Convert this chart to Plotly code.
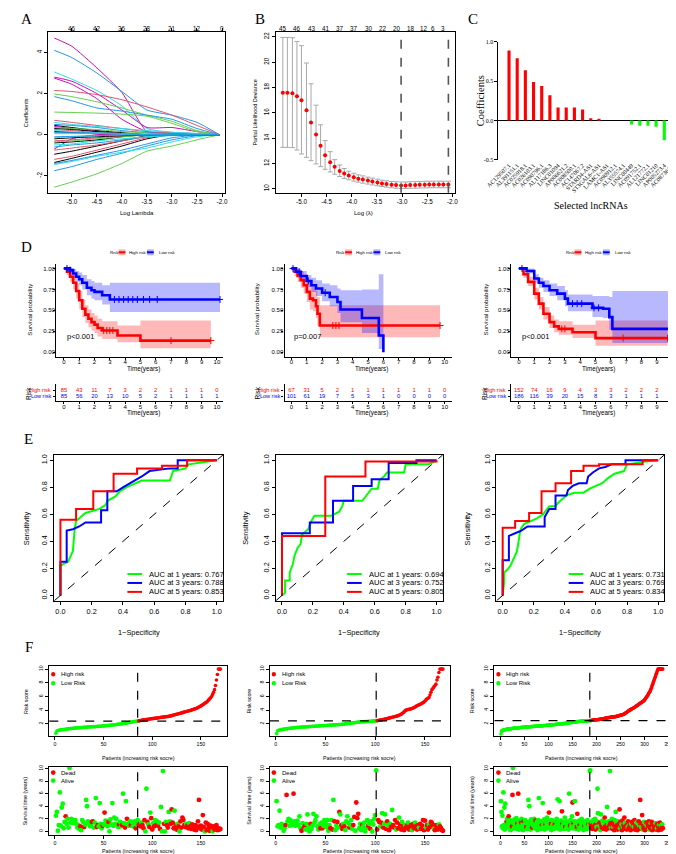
import plotly.graph_objects as go

W, H = 676, 854
SANS = "Liberation Sans"
SERIF = "Liberation Serif"

# ===================== DATA =====================
# ---- A: LASSO coefficient paths ----
LASSO_LOG_LAMBDA = [-5.35, -5.0, -4.5, -4.0, -3.5, -3.0, -2.5, -2.05]
LASSO_PATHS = [
    [4.7, 4.3, 3.25, 2.05, 0.15, 0.08, 0.03, 0],
    [4.1, 3.75, 3.0, 2.1, 1.2, 0.95, 0.6, 0],
    [3.05, 2.7, 2.15, 1.4, 0.3, 0.12, 0.05, 0],
    [2.8, 2.6, 2.0, 1.2, 0.35, 0.35, 0.15, 0],
    [2.75, 2.45, 1.75, 0.75, 0.15, 0.05, 0.0, 0],
    [2.15, 2.1, 1.95, 1.7, 1.35, 0.95, 0.45, 0],
    [1.98, 1.85, 1.6, 1.3, 0.95, 0.65, 0.2, 0],
    [1.85, 1.65, 1.3, 1.15, 0.95, 0.75, 0.3, 0],
    [1.1, 1.08, 1.05, 1.0, 0.9, 0.55, 0.15, 0],
    [0.7, 0.6, 0.45, 0.3, 0.15, 0.1, 0.05, 0],
    [0.6, 0.5, 0.4, 0.3, 0.2, 0.12, 0.06, 0],
    [0.5, 0.45, 0.35, 0.2, 0.1, 0.05, 0.02, 0],
    [0.45, 0.35, 0.2, 0.1, 0.0, 0, 0, 0],
    [0.4, 0.3, 0.15, 0.05, 0, 0, 0, 0],
    [0.35, 0.3, 0.25, 0.15, 0.08, 0, 0, 0],
    [0.3, 0.25, 0.15, 0.05, 0, 0, 0, 0],
    [0.25, 0.2, 0.1, 0.05, 0, 0, 0, 0],
    [0.2, 0.15, 0.1, 0.05, 0.02, 0, 0, 0],
    [0.15, 0.1, 0.05, 0, 0, 0, 0, 0],
    [0.1, 0.1, 0.08, 0.05, 0.02, 0, 0, 0],
    [0.05, 0.05, 0.05, 0.03, 0.01, 0, 0, 0],
    [-2.55, -2.3, -1.9, -1.4, -0.8, -0.55, -0.25, 0],
    [-1.75, -1.55, -1.2, -0.9, -0.55, -0.25, -0.05, 0],
    [-1.45, -1.3, -1.05, -0.85, -0.65, -0.35, -0.1, 0],
    [-1.4, -1.25, -1.0, -0.75, -0.45, -0.15, -0.02, 0],
    [-1.35, -1.15, -0.85, -0.55, -0.2, 0, 0, 0],
    [-1.2, -1.05, -0.75, -0.45, -0.15, 0, 0, 0],
    [-0.95, -0.8, -0.55, -0.3, -0.05, 0, 0, 0],
    [-0.75, -0.65, -0.5, -0.3, -0.1, 0, 0, 0],
    [-0.7, -0.2, 0.0, 0, 0, 0, 0, 0],
    [-0.6, -0.5, -0.4, -0.25, -0.1, -0.03, 0, 0],
    [-0.5, -0.45, -0.3, -0.2, -0.1, -0.05, 0, 0],
    [-0.4, -0.35, -0.25, -0.1, 0, 0, 0, 0],
    [-0.35, -0.3, -0.2, -0.1, -0.02, 0, 0, 0],
    [-0.3, -0.25, -0.15, -0.05, 0, 0, 0, 0],
    [-0.2, -0.15, -0.1, -0.05, 0, 0, 0, 0],
    [-0.15, -0.1, -0.05, 0, 0, 0, 0, 0],
    [-0.1, -0.08, -0.05, -0.02, 0, 0, 0, 0],
]
LASSO_PATH_COLOR = [5, 3, 4, 5, 5, 1, 2, 3, 2, 1, 4, 3, 0, 5, 2, 0, 1, 4, 0, 3, 2,
                    2, 3, 4, 3, 0, 1, 0, 1, 5, 3, 4, 0, 2, 1, 0, 4, 3]
LASSO_TOP_AT = [-5.0, -4.5, -4.0, -3.5, -3.0, -2.5, -2.0]
LASSO_TOP_DF = ["46", "42", "36", "28", "21", "12", "0"]

# ---- B: cross-validation ----
CV_LOG_LAMBDA = [-5.37, -5.28, -5.18, -5.09, -5.0, -4.9, -4.81, -4.71, -4.62, -4.53, -4.43, -4.34,
                 -4.24, -4.15, -4.06, -3.96, -3.87, -3.78, -3.68, -3.59, -3.49, -3.4, -3.31, -3.21,
                 -3.12, -3.02, -2.93, -2.84, -2.74, -2.65, -2.55, -2.46, -2.37, -2.27, -2.18, -2.08]
CV_MEAN = [17.58, 17.58, 17.55, 17.3, 16.98, 16.2, 15.23, 14.29, 13.4, 12.64, 12.09, 11.73,
           11.41, 11.2, 11.05, 10.92, 10.8, 10.73, 10.65, 10.58, 10.5, 10.42, 10.37, 10.31,
           10.29, 10.26, 10.26, 10.29, 10.3, 10.31, 10.32, 10.33, 10.33, 10.33, 10.33, 10.33]
CV_UPPER = [21.95, 21.95, 21.93, 21.63, 21.3, 19.93, 18.29, 16.6, 15.05, 13.8, 12.93, 12.3,
            11.88, 11.6, 11.39, 11.23, 11.1, 11.02, 10.92, 10.84, 10.76, 10.68, 10.63, 10.58,
            10.56, 10.54, 10.54, 10.56, 10.57, 10.58, 10.59, 10.6, 10.6, 10.6, 10.6, 10.6]
CV_LOWER = [13.27, 13.27, 13.25, 13.06, 12.75, 12.48, 12.22, 11.96, 11.75, 11.54, 11.33, 11.15,
            10.97, 10.81, 10.71, 10.6, 10.52, 10.44, 10.37, 10.3, 10.24, 10.18, 10.13, 10.08,
            10.05, 10.02, 10.02, 10.04, 10.05, 10.06, 10.07, 10.08, 10.08, 10.08, 10.08, 10.08]
CV_TOP_AT = [-5.37, -5.08, -4.79, -4.52, -4.23, -3.95, -3.66, -3.38, -3.11, -2.83, -2.56, -2.38, -2.19]
CV_TOP_DF = ["45", "46", "43", "41", "37", "37", "30", "22", "20", "18", "12", "6", "3"]
CV_LAMBDA_MIN = -3.02
CV_LAMBDA_1SE = -2.08

# ---- C: selected lncRNAs ----
GENES = ["AC129507.1", "AL391151.1", "AC025918.1", "AC026103.1", "AC090796.1", "AL117186.3",
         "LINC01094", "AP006621.2", "AC008500.1", "AC147067.2", "STARD4-AS1", "ST3GAL6-AS1",
         "LAMC1-AS1", "AC090912.1", "AL355574.1", "LINC00449", "AC091752.1", "AL121772.1",
         "LINC01210", "AP005273.4", "AC087361.1"]
COEFS = [0.89, 0.79, 0.64, 0.49, 0.44, 0.32, 0.165, 0.165, 0.165, 0.14, 0.03, 0.015,
         0, 0, 0, -0.05, -0.065, -0.065, -0.08, -0.25, -0.44]

# ---- D: Kaplan-Meier ----
KM_TABLE_TIMES = [0, 1, 2, 3, 4, 5, 6, 7, 8, 9, 10]
KM = [
    dict(pval="p<0.001",
         high_t=[0, 0.2, 0.4, 0.6, 0.8, 1.0, 1.2, 1.4, 1.6, 1.8, 2.0, 2.2, 2.5, 3.5, 5.0, 9.6],
         high_s=[1, 0.96, 0.9, 0.83, 0.73, 0.62, 0.52, 0.45, 0.4, 0.36, 0.33, 0.29, 0.26, 0.2, 0.14, 0.14],
         high_lo=[1, 0.92, 0.84, 0.75, 0.64, 0.52, 0.42, 0.35, 0.3, 0.26, 0.23, 0.19, 0.16, 0.12, 0.05, 0.05],
         high_up=[1, 1.0, 0.97, 0.92, 0.83, 0.73, 0.63, 0.56, 0.51, 0.47, 0.44, 0.4, 0.37, 0.32, 0.38, 0.38],
         high_cens=[2.6, 2.8, 3.0, 3.2, 7.0, 9.6],
         low_t=[0, 0.4, 0.6, 0.8, 1.0, 1.2, 1.5, 1.8, 2.0, 2.5, 3.0, 10.2],
         low_s=[1, 0.98, 0.94, 0.9, 0.87, 0.83, 0.77, 0.74, 0.72, 0.68, 0.63, 0.63],
         low_lo=[1, 0.95, 0.89, 0.84, 0.8, 0.75, 0.68, 0.64, 0.62, 0.57, 0.48, 0.48],
         low_up=[1, 1, 0.99, 0.97, 0.95, 0.92, 0.87, 0.85, 0.83, 0.8, 0.83, 0.83],
         low_cens=[0.2, 0.4, 3.3, 3.6, 3.9, 4.2, 4.5, 4.8, 5.2, 5.6, 6.1, 10.2],
         n_high=[85, 43, 11, 7, 3, 2, 2, 1, 1, 1, 0],
         n_low=[85, 56, 20, 13, 10, 5, 2, 1, 1, 1, 1]),
    dict(pval="p=0.007",
         high_t=[0, 0.2, 0.4, 0.6, 0.8, 1.0, 1.2, 1.4, 1.6, 1.7, 1.85, 9.7],
         high_s=[1, 0.96, 0.91, 0.86, 0.8, 0.72, 0.64, 0.62, 0.55, 0.46, 0.32, 0.32],
         high_lo=[1, 0.91, 0.84, 0.77, 0.7, 0.6, 0.51, 0.49, 0.41, 0.32, 0.18, 0.18],
         high_up=[1, 1, 0.99, 0.96, 0.92, 0.86, 0.8, 0.78, 0.73, 0.66, 0.56, 0.56],
         high_cens=[2.7, 2.9, 3.1, 9.7],
         low_t=[0, 0.3, 0.6, 1.0, 1.3, 1.6, 2.0, 2.5, 3.0, 3.2, 4.6, 5.7, 6.0],
         low_s=[1, 0.96, 0.91, 0.85, 0.8, 0.76, 0.71, 0.66, 0.6, 0.51, 0.41, 0.2, 0.0],
         low_lo=[1, 0.92, 0.86, 0.78, 0.72, 0.67, 0.61, 0.55, 0.47, 0.36, 0.23, 0.04, 0.0],
         low_up=[1, 1, 0.97, 0.92, 0.89, 0.86, 0.82, 0.8, 0.76, 0.74, 0.75, 0.93, 0.0],
         low_cens=[0.1, 0.5, 1.1, 2.2],
         n_high=[67, 31, 5, 2, 1, 1, 1, 1, 1, 1, 0],
         n_low=[101, 61, 19, 7, 5, 3, 1, 0, 0, 0, 0]),
    dict(pval="p<0.001",
         high_t=[0, 0.3, 0.6, 1.0, 1.3, 1.6, 2.0, 2.3, 2.6, 3.5, 5.0, 9.7],
         high_s=[1, 0.93, 0.84, 0.7, 0.58, 0.46, 0.36, 0.31, 0.28, 0.24, 0.17, 0.17],
         high_lo=[1, 0.89, 0.79, 0.63, 0.51, 0.39, 0.29, 0.24, 0.21, 0.17, 0.08, 0.08],
         high_up=[1, 0.97, 0.9, 0.77, 0.66, 0.54, 0.44, 0.39, 0.37, 0.33, 0.38, 0.38],
         high_cens=[2.8, 3.0, 6.8, 9.7],
         low_t=[0, 0.5, 1.0, 1.3, 1.6, 2.0, 2.5, 3.0, 3.2, 4.5, 4.8, 5.5, 5.9, 6.1, 10.2],
         low_s=[1, 0.97, 0.88, 0.83, 0.79, 0.74, 0.7, 0.64, 0.58, 0.58, 0.53, 0.52, 0.42, 0.28, 0.28],
         low_lo=[1, 0.94, 0.83, 0.77, 0.72, 0.67, 0.62, 0.55, 0.49, 0.49, 0.42, 0.41, 0.27, 0.11, 0.11],
         low_up=[1, 1, 0.93, 0.89, 0.86, 0.82, 0.79, 0.74, 0.69, 0.69, 0.67, 0.67, 0.66, 0.73, 0.73],
         low_cens=[0.2, 3.5, 3.8, 4.1, 4.9, 5.2, 10.2],
         n_high=[152, 74, 16, 9, 4, 3, 3, 2, 2, 2, 0],
         n_low=[186, 116, 39, 20, 15, 8, 3, 1, 1, 1, 1]),
]

# ---- E: time-dependent ROC (FPR, TPR) ----
ROC = [
    dict(auc=["0.767", "0.788", "0.853"],
         g_x=[0, 0, 0.05, 0.07, 0.08, 0.09, 0.1, 0.13, 0.16, 0.25, 0.29, 0.3, 0.35, 0.38, 0.42, 0.46, 0.52, 0.7, 0.72, 0.8, 0.82, 1],
         g_y=[0, 0.22, 0.25, 0.3, 0.33, 0.48, 0.55, 0.58, 0.61, 0.64, 0.67, 0.7, 0.73, 0.77, 0.8, 0.82, 0.85, 0.85, 0.92, 0.94, 0.97, 1],
         b_x=[0, 0, 0.04, 0.04, 0.08, 0.12, 0.16, 0.26, 0.26, 0.3, 0.3, 0.36, 0.4, 0.46, 0.52, 0.57, 0.7, 0.75, 0.75, 1],
         b_y=[0, 0.25, 0.25, 0.48, 0.49, 0.51, 0.54, 0.54, 0.63, 0.63, 0.77, 0.77, 0.8, 0.84, 0.88, 0.92, 0.94, 0.94, 1.0, 1],
         r_x=[0, 0, 0.1, 0.1, 0.21, 0.21, 0.34, 0.34, 0.49, 0.49, 0.65, 0.65, 0.81, 0.81, 1],
         r_y=[0, 0.56, 0.56, 0.64, 0.64, 0.77, 0.77, 0.9, 0.9, 0.94, 0.94, 0.96, 0.96, 1.0, 1]),
    dict(auc=["0.694", "0.752", "0.805"],
         g_x=[0, 0.02, 0.02, 0.05, 0.05, 0.07, 0.08, 0.1, 0.12, 0.13, 0.17, 0.19, 0.21, 0.32, 0.37, 0.39, 0.4, 0.52, 0.54, 0.56, 0.58, 0.62, 0.63, 0.66, 0.68, 0.79, 0.8, 0.95, 1],
         g_y=[0, 0.02, 0.11, 0.11, 0.17, 0.23, 0.29, 0.35, 0.38, 0.45, 0.49, 0.55, 0.59, 0.59, 0.62, 0.66, 0.7, 0.7, 0.73, 0.76, 0.79, 0.79, 0.85, 0.88, 0.91, 0.91, 0.97, 0.97, 1],
         b_x=[0, 0, 0.18, 0.18, 0.33, 0.33, 0.46, 0.46, 0.58, 0.58, 0.69, 0.69, 0.87, 0.87, 1],
         b_y=[0, 0.46, 0.46, 0.54, 0.54, 0.7, 0.7, 0.81, 0.81, 0.86, 0.86, 0.98, 0.98, 1.0, 1],
         r_x=[0, 0, 0.28, 0.28, 0.54, 0.54, 1, 1],
         r_y=[0, 0.44, 0.44, 0.88, 0.88, 0.99, 0.99, 1]),
    dict(auc=["0.731", "0.769", "0.834"],
         g_x=[0, 0.01, 0.01, 0.03, 0.05, 0.07, 0.09, 0.1, 0.11, 0.12, 0.14, 0.18, 0.22, 0.26, 0.3, 0.34, 0.36, 0.38, 0.41, 0.46, 0.52, 0.56, 0.6, 0.64, 0.68, 0.72, 0.78, 0.8, 0.92, 1],
         g_y=[0, 0.1, 0.17, 0.19, 0.22, 0.27, 0.32, 0.38, 0.46, 0.5, 0.53, 0.55, 0.57, 0.6, 0.66, 0.66, 0.69, 0.71, 0.74, 0.76, 0.76, 0.79, 0.81, 0.83, 0.87, 0.9, 0.92, 0.97, 0.99, 1],
         b_x=[0, 0, 0.04, 0.04, 0.08, 0.12, 0.16, 0.27, 0.27, 0.3, 0.34, 0.34, 0.41, 0.42, 0.45, 0.49, 0.54, 0.55, 0.58, 0.62, 0.66, 0.7, 0.79, 0.79, 1],
         b_y=[0, 0.26, 0.26, 0.44, 0.46, 0.48, 0.51, 0.51, 0.58, 0.64, 0.64, 0.74, 0.74, 0.78, 0.81, 0.83, 0.83, 0.88, 0.91, 0.94, 0.95, 0.97, 0.97, 1.0, 1],
         r_x=[0, 0, 0.08, 0.08, 0.17, 0.17, 0.25, 0.25, 0.34, 0.34, 0.44, 0.44, 0.52, 0.52, 0.62, 0.62, 0.9, 0.9, 1],
         r_y=[0, 0.5, 0.5, 0.55, 0.55, 0.61, 0.61, 0.77, 0.77, 0.83, 0.83, 0.92, 0.92, 0.96, 0.96, 0.97, 0.97, 1.0, 1]),
]
ROC_YEARS = ["1", "3", "5"]

# ---- F: risk score distribution & survival status ----
F1_N_LOW = 85
F1_CUTOFF = 2.41
F1_RISK = [0.62, 0.95, 1.02, 1.06, 1.09, 1.12, 1.14, 1.16, 1.18, 1.2,
           1.22, 1.24, 1.26, 1.28, 1.3, 1.31, 1.33, 1.34, 1.36, 1.37,
           1.38, 1.4, 1.41, 1.42, 1.44, 1.45, 1.46, 1.47, 1.48, 1.49,
           1.5, 1.51, 1.52, 1.53, 1.54, 1.55, 1.56, 1.57, 1.58, 1.59,
           1.6, 1.61, 1.62, 1.63, 1.64, 1.65, 1.66, 1.67, 1.68, 1.7,
           1.71, 1.72, 1.74, 1.75, 1.77, 1.78, 1.8, 1.81, 1.83, 1.84,
           1.86, 1.88, 1.9, 1.92, 1.94, 1.96, 1.98, 2.0, 2.02, 2.04,
           2.06, 2.08, 2.1, 2.13, 2.16, 2.19, 2.22, 2.25, 2.27, 2.3,
           2.32, 2.34, 2.36, 2.38, 2.4,
           2.43, 2.46, 2.49, 2.52, 2.55,
           2.58, 2.6, 2.62, 2.64, 2.66, 2.68, 2.7, 2.72, 2.74, 2.76,
           2.78, 2.8, 2.82, 2.84, 2.86, 2.88, 2.9, 2.92, 2.94, 2.96,
           2.98, 3.0, 3.02, 3.04, 3.06, 3.08, 3.1, 3.13, 3.16, 3.2,
           3.24, 3.28, 3.32, 3.36, 3.4, 3.44, 3.48, 3.52, 3.56, 3.6,
           3.64, 3.68, 3.72, 3.76, 3.8, 3.84, 3.88, 3.92, 3.96, 4.0,
           4.05, 4.1, 4.15, 4.2, 4.25, 4.3, 4.38, 4.46, 4.54, 4.62,
           4.7, 4.8, 4.9, 5.0, 5.1, 5.2, 5.35, 5.5, 5.65, 5.8,
           6.0, 6.3, 6.6, 7.0, 7.6, 8.4, 9.2, 10, 10, 10]
F1_TIME = [2.5, 3.1, 0.1, 1.0, 6.2, 0.9, 3.8, 4.4, 0.5, 1.5,
           2.4, 1.2, 2.0, 0.6, 10.1, 1.4, 2.0, 1.6, 1.3, 1.6,
           1.8, 1.2, 0.6, 1.0, 0.4, 0.8, 0.2, 1.8, 1.5, 0.7,
           1.1, 5.0, 4.0, 1.6, 1.2, 0.8, 1.0, 1.5, 1.6, 0.6,
           1.4, 5.3, 0.7, 1.0, 0.8, 4.5, 1.2, 0.5, 0.9, 1.1,
           3.0, 1.7, 1.0, 0.8, 1.5, 0.0, 1.9, 1.1, 4.5, 0.9,
           2.2, 1.2, 2.0, 1.0, 0.7, 1.1, 1.5, 0.8, 1.0, 6.0,
           1.3, 0.6, 4.8, 2.0, 1.2, 0.9, 1.6, 1.0, 1.5, 0.8,
           1.2, 1.6, 0.5, 1.1, 1.8,
           1.0, 1.2, 0.8, 1.4, 1.0, 0.5, 1.8, 0.0, 6.8, 1.5,
           1.1, 0.7, 3.0, 2.1, 0.3, 1.3, 0.8, 1.8, 1.0, 1.6,
           0.9, 1.4, 0.4, 3.9, 0.0, 9.6, 1.2, 0.0, 1.5, 1.0,
           0.6, 3.1, 1.6, 1.2, 3.5, 1.4, 0.5, 3.3, 1.0, 0.3,
           1.2, 0.8, 0.0, 1.6, 0.6, 2.2, 1.8, 1.0, 0.7, 1.2,
           0.9, 0.5, 1.3, 0.8, 0.4, 1.1, 0.6, 0.3, 1.0, 0.2,
           0.8, 1.6, 5.0, 0.5, 0.9, 0.3, 2.6, 0.7, 0.0, 1.4,
           0.2, 1.2, 0.6, 0.1, 0.9, 0.4, 0.0, 0.8, 0.3, 0.6,
           1.0, 0.2, 0.5, 0.3, 0.4]
F1_DEAD = [0, 0, 0, 0, 0, 0, 0, 0, 0, 0,
           1, 0, 0, 0, 0, 0, 0, 0, 0, 0,
           0, 0, 0, 0, 0, 1, 0, 0, 0, 1,
           0, 0, 0, 0, 0, 0, 0, 1, 1, 0,
           0, 0, 1, 1, 0, 0, 0, 0, 1, 0,
           1, 0, 0, 0, 1, 0, 0, 0, 0, 0,
           0, 0, 0, 0, 0, 1, 0, 0, 1, 0,
           0, 1, 0, 1, 0, 0, 0, 1, 0, 0,
           0, 0, 1, 0, 0,
           1, 1, 1, 0, 1, 1, 1, 0, 0, 1,
           0, 1, 0, 1, 1, 0, 1, 0, 1, 0,
           1, 0, 1, 0, 0, 0, 1, 0, 0, 1,
           1, 0, 0, 1, 1, 1, 1, 0, 1, 1,
           0, 1, 0, 1, 1, 1, 1, 1, 1, 0,
           1, 1, 0, 1, 1, 1, 1, 1, 1, 1,
           1, 1, 1, 1, 1, 1, 1, 1, 0, 1,
           1, 1, 1, 1, 1, 1, 0, 1, 1, 1,
           1, 1, 1, 1, 1]

F2_N_LOW = 101
F2_CUTOFF = 2.45
F2_RISK = [0.6, 1.0, 1.05, 1.1, 1.13, 1.16, 1.19, 1.22, 1.24, 1.26,
           1.28, 1.3, 1.32, 1.34, 1.36, 1.38, 1.4, 1.42, 1.44, 1.46,
           1.47, 1.48, 1.49, 1.5, 1.51, 1.52, 1.53, 1.54, 1.55, 1.56,
           1.57, 1.58, 1.59, 1.6, 1.61, 1.62, 1.63, 1.64, 1.65, 1.66,
           1.67, 1.68, 1.69, 1.7, 1.71, 1.72, 1.73, 1.74, 1.75, 1.76,
           1.77, 1.78, 1.79, 1.8, 1.81, 1.82, 1.83, 1.84, 1.85, 1.86,
           1.87, 1.88, 1.89, 1.9, 1.91, 1.92, 1.93, 1.95, 1.97, 1.99,
           2.01, 2.03, 2.05, 2.07, 2.09, 2.11, 2.13, 2.15, 2.17, 2.19,
           2.21, 2.23, 2.25, 2.27, 2.28, 2.29, 2.3, 2.31, 2.32, 2.33,
           2.34, 2.35, 2.36, 2.37, 2.38, 2.39, 2.4, 2.41, 2.42, 2.43, 2.44,
           2.47, 2.5, 2.52, 2.55, 2.58, 2.6, 2.63, 2.66, 2.7,
           2.73, 2.76, 2.8, 2.84, 2.88, 2.92, 2.96, 3.0, 3.04, 3.08,
           3.12, 3.16, 3.2, 3.26, 3.32, 3.4, 3.5, 3.62, 3.75, 3.9,
           4.0, 4.05, 4.1, 4.12, 4.15, 4.2, 4.25, 4.3, 4.38, 4.46,
           4.55, 4.64, 4.72, 4.78, 4.85, 4.9, 5.0, 5.1, 5.2, 5.35,
           5.5, 5.65, 5.75, 5.85, 6.2, 6.6, 7.0, 7.2, 7.4, 7.6,
           7.8, 8.4, 8.8, 9.5, 10, 10, 10, 10]
F2_TIME = [4.8, 0.8, 1.0, 3.3, 0.6, 1.2, 0.9, 0.1, 0.5, 1.0,
           5.8, 1.6, 2.0, 0.9, 1.8, 1.4, 1.0, 6.0, 1.6, 0.9,
           1.2, 1.7, 1.0, 2.4, 0.5, 0.1, 1.3, 0.4, 0.8, 0.3,
           1.2, 2.7, 0.6, 0.0, 1.2, 0.4, 0.9, 2.8, 1.4, 1.8,
           2.4, 0.8, 0.3, 1.1, 0.5, 1.4, 0.5, 0.9, 1.8, 1.2,
           0.7, 1.8, 0.1, 1.0, 0.5, 1.8, 0.3, 5.0, 1.6, 0.2,
           0.9, 1.5, 0.6, 3.1, 2.7, 1.0, 0.4, 1.2, 0.8, 0.2,
           1.6, 2.4, 1.3, 0.6, 1.0, 1.8, 0.4, 1.0, 2.3, 0.1,
           4.6, 2.1, 2.8, 0.5, 1.2, 0.2, 1.0, 0.8, 1.4, 0.0,
           0.5, 1.8, 0.9, 1.2, 0.4, 1.6, 0.0, 1.1, 2.0, 2.6, 9.7,
           0.3, 1.8, 1.5, 0.8, 1.4, 2.9, 0.6, 1.2, 2.7, 0.4,
           1.6, 0.9, 0.2, 1.2, 0.7, 3.4, 1.0, 0.6, 1.8, 0.3,
           1.4, 0.5, 2.2, 1.1, 0.3, 1.5, 0.8, 0.2, 1.0, 0.6,
           0.9, 1.4, 0.3, 0.7, 1.0, 0.2, 1.2, 0.5, 1.4, 0.8,
           0.3, 1.0, 0.6, 1.2, 0.4, 0.9, 1.8, 0.2, 1.7, 0.6,
           1.0, 0.3, 1.1, 0.7, 1.5, 1.3, 0.8, 0.4, 0.2, 1.0,
           0.6, 0.3, 1.1, 0.8, 0.5, 0.2, 0.1]
F2_DEAD = [0, 0, 0, 0, 0, 0, 0, 0, 0, 1,
           1, 0, 0, 0, 0, 0, 0, 1, 0, 0,
           0, 0, 0, 0, 0, 1, 0, 1, 1, 0,
           0, 0, 0, 0, 1, 0, 0, 0, 0, 0,
           0, 0, 0, 0, 1, 0, 1, 0, 0, 0,
           0, 0, 0, 0, 1, 0, 1, 0, 1, 0,
           0, 1, 0, 1, 0, 1, 1, 0, 1, 0,
           0, 0, 0, 1, 0, 0, 0, 1, 1, 0,
           1, 1, 1, 0, 0, 0, 1, 0, 0, 0,
           0, 0, 1, 0, 1, 0, 0, 0, 0, 0, 0,
           1, 1, 1, 0, 1, 0, 1, 0, 0, 1,
           1, 0, 1, 0, 1, 0, 1, 1, 1, 0,
           1, 1, 0, 1, 1, 0, 1, 1, 0, 1,
           1, 0, 1, 1, 1, 0, 1, 1, 0, 1,
           1, 1, 0, 1, 1, 1, 1, 1, 1, 0,
           1, 1, 0, 1, 1, 1, 1, 0, 1, 1,
           1, 1, 0, 1, 1, 1, 1]

F3_N_LOW = 186
F3_CUTOFF = 2.47
F3_RISK = [0.5, 0.9, 1.0, 1.03, 1.06, 1.08, 1.1, 1.12, 1.14, 1.16, 1.18, 1.2, 1.21, 1.22, 1.23, 1.24, 1.25, 1.26, 1.27, 1.28,
           1.29, 1.3, 1.31, 1.32, 1.33, 1.34, 1.35, 1.36, 1.37, 1.38, 1.38, 1.39, 1.4, 1.4, 1.41, 1.42, 1.42, 1.43, 1.44, 1.44,
           1.45, 1.46, 1.46, 1.47, 1.48, 1.48, 1.49, 1.5, 1.5, 1.51, 1.52, 1.52, 1.53, 1.54, 1.54, 1.55, 1.55, 1.56, 1.57, 1.57,
           1.58, 1.58, 1.59, 1.6, 1.6, 1.61, 1.61, 1.62, 1.63, 1.63, 1.64, 1.64, 1.65, 1.65, 1.66, 1.66, 1.67, 1.68, 1.68, 1.69,
           1.69, 1.7, 1.7, 1.71, 1.72, 1.72, 1.73, 1.73, 1.74, 1.75, 1.75, 1.76, 1.76, 1.77, 1.78, 1.78, 1.79, 1.8, 1.8, 1.81,
           1.82, 1.82, 1.83, 1.84, 1.84, 1.85, 1.86, 1.86, 1.87, 1.88, 1.88, 1.89, 1.9, 1.91, 1.91, 1.92, 1.93, 1.94, 1.94, 1.95,
           1.96, 1.97, 1.97, 1.98, 1.99, 2.0, 2.01, 2.01, 2.02, 2.03, 2.04, 2.05, 2.06, 2.06, 2.07, 2.08, 2.09, 2.1, 2.11, 2.12,
           2.13, 2.14, 2.15, 2.16, 2.17, 2.18, 2.19, 2.2, 2.21, 2.22, 2.23, 2.24, 2.25, 2.26, 2.27, 2.28, 2.29, 2.3, 2.31, 2.32,
           2.33, 2.34, 2.35, 2.35, 2.36, 2.37, 2.37, 2.38, 2.38, 2.39, 2.39, 2.4, 2.4, 2.41, 2.41, 2.42, 2.42, 2.43, 2.43, 2.44,
           2.44, 2.45, 2.45, 2.46, 2.46, 2.47,
           2.48, 2.49, 2.5, 2.51, 2.52, 2.53, 2.54, 2.55, 2.56, 2.57, 2.58, 2.59, 2.59, 2.6,
           2.6, 2.61, 2.62, 2.63, 2.64, 2.65, 2.66, 2.67, 2.68, 2.69, 2.7, 2.71, 2.72, 2.73, 2.75, 2.77, 2.79, 2.81, 2.83, 2.85,
           2.87, 2.88, 2.89, 2.9, 2.91, 2.92, 2.93, 2.94, 2.95, 2.96, 2.97, 2.98, 2.99, 3.0, 3.01, 3.02, 3.03, 3.04, 3.05, 3.06,
           3.08, 3.1, 3.12, 3.14, 3.16, 3.18, 3.2, 3.22, 3.24, 3.26, 3.28, 3.3, 3.32, 3.34, 3.36, 3.38, 3.4, 3.45, 3.5, 3.55,
           3.6, 3.65, 3.7, 3.75, 3.8, 3.85, 3.9, 3.95, 4.0, 4.04, 4.08, 4.12, 4.16, 4.2, 4.24, 4.28, 4.32, 4.36, 4.4, 4.45,
           4.5, 4.55, 4.6, 4.65, 4.7, 4.75, 4.8, 4.85, 4.9, 4.95, 5.0, 5.05, 5.1, 5.15, 5.2, 5.25, 5.3, 5.35, 5.42, 5.5,
           5.6, 5.7, 5.8, 5.9, 6.0, 6.1, 6.2, 6.35, 6.5, 6.6, 6.7, 6.85, 7.0, 7.2, 7.4, 7.6, 7.8, 8.0, 8.2, 8.4,
           8.6, 8.8, 9.0, 9.2, 9.4, 9.6, 9.8, 10, 10, 10, 10, 10, 10, 10, 10, 10, 10, 10]
F3_TIME = [4.8, 3.1, 0.8, 2.5, 0.5, 6.2, 1.0, 3.8, 0.3, 4.4, 1.2, 0.7, 1.6, 2.0, 0.9, 1.4, 2.4, 0.6, 1.1, 1.8,
           0.2, 1.5, 1.0, 0.8, 5.8, 10.1, 1.3, 0.5, 1.9, 1.1, 0.7, 1.6, 2.1, 0.4, 1.2, 0.9, 6.0, 1.5, 0.3, 1.7,
           1.0, 0.6, 1.4, 2.0, 0.8, 1.2, 0.2, 1.6, 0.9, 1.1, 1.8, 0.5, 1.3, 0.7, 1.5, 0.4, 1.0, 5.0, 1.2, 4.0,
           0.8, 1.6, 0.3, 1.9, 1.1, 0.6, 1.4, 1.0, 0.9, 2.0, 1.3, 0.5, 1.7, 1.2, 0.7, 1.5, 0.2, 1.0, 1.8, 5.3,
           1.1, 0.8, 1.4, 0.4, 1.6, 1.0, 0.6, 4.5, 1.2, 0.9, 1.9, 0.3, 1.5, 1.1, 0.7, 1.3, 2.2, 0.5, 1.0, 1.7,
           3.0, 0.9, 1.4, 0.6, 1.2, 0.2, 1.8, 1.0, 0.8, 1.5, 0.4, 1.3, 1.1, 0.7, 1.6, 0.9, 2.0, 0.5, 5.1, 1.2,
           0.8, 1.4, 4.8, 0.3, 1.0, 1.7, 0.6, 3.2, 1.2, 0.9, 1.5, 0.4, 1.1, 2.2, 0.7, 1.3, 0.5, 1.6, 1.0, 0.8,
           1.4, 0.3, 6.0, 1.2, 0.9, 1.8, 0.6, 1.0, 2.4, 4.6, 0.5, 1.3, 0.8, 1.6, 4.8, 1.1, 0.4, 1.5, 0.7, 2.8,
           1.2, 0.9, 0.3, 1.7, 1.0, 0.6, 1.4, 0.8, 2.0, 1.1, 0.5, 1.3, 0.2, 1.6, 0.9, 1.2, 0.7, 1.0, 1.5, 0.4,
           1.8, 0.6, 1.1, 0.9, 1.4, 9.6,
           9.7, 1.2, 0.8, 1.5, 0.4, 1.0, 1.8, 0.6, 1.3, 0.9, 2.0, 0.3, 1.1, 0.7,
           1.6, 6.8, 2.9, 0.5, 1.2, 0.9, 1.4, 0.2, 2.7, 1.0, 0.6, 1.7, 0.8, 1.3, 0.4, 1.1, 2.2, 0.7, 1.5, 0.3,
           1.0, 3.9, 0.8, 1.2, 0.5, 1.6, 0.9, 9.6, 1.3, 0.6, 1.1, 2.0, 0.4, 1.4, 0.7, 1.0, 0.2, 1.8, 0.9, 3.1,
           0.6, 1.3, 1.0, 0.3, 1.6, 0.8, 1.2, 3.5, 0.5, 1.5, 0.9, 1.1, 0.2, 1.7, 0.7, 1.0, 0.4, 2.2, 1.3, 0.6,
           0.9, 1.4, 0.3, 1.1, 0.7, 1.6, 0.5, 1.0, 0.8, 1.3, 0.2, 1.2, 0.6, 1.5, 0.9, 0.4, 1.1, 0.7, 1.8, 0.3,
           1.0, 0.5, 1.4, 0.8, 0.2, 1.2, 0.6, 1.6, 0.9, 0.4, 5.0, 1.1, 0.7, 1.3, 2.6, 0.3, 1.0, 0.5, 1.5, 0.8,
           0.2, 1.2, 0.6, 1.4, 0.9, 0.4, 1.1, 0.7, 1.6, 0.3, 1.0, 0.5, 1.3, 0.8, 1.5, 0.2, 1.2, 0.6, 0.9, 0.4,
           1.1, 0.7, 1.3, 0.3, 0.9, 0.5, 1.2, 0.8, 0.2, 1.0, 0.6, 1.4, 0.4, 0.9, 0.3, 0.7, 1.1, 0.5]
F3_DEAD = [0, 0, 0, 0, 0, 0, 0, 0, 0, 0, 0, 0, 1, 0, 0, 0, 1, 0, 0, 0,
           0, 0, 0, 1, 1, 0, 0, 0, 0, 0, 0, 0, 0, 0, 1, 0, 1, 0, 0, 0,
           0, 0, 1, 0, 0, 0, 0, 1, 0, 0, 0, 0, 0, 1, 0, 0, 0, 0, 0, 0,
           0, 0, 0, 0, 0, 1, 0, 0, 0, 0, 0, 0, 1, 0, 0, 0, 0, 0, 0, 0,
           0, 0, 0, 0, 0, 1, 0, 0, 0, 0, 0, 0, 0, 1, 0, 0, 0, 0, 0, 0,
           1, 0, 0, 0, 1, 0, 0, 0, 0, 0, 0, 0, 1, 0, 0, 0, 0, 0, 0, 0,
           0, 0, 0, 0, 0, 0, 0, 1, 1, 0, 0, 0, 0, 0, 1, 0, 0, 0, 0, 0,
           0, 0, 0, 0, 1, 0, 0, 0, 0, 1, 0, 1, 0, 0, 0, 0, 0, 0, 1, 1,
           0, 0, 0, 0, 1, 0, 0, 0, 0, 0, 0, 0, 0, 0, 1, 0, 0, 0, 0, 0,
           0, 0, 1, 0, 0, 0,
           0, 1, 1, 0, 1, 1, 0, 1, 0, 1, 0, 1, 1, 0,
           0, 0, 0, 1, 1, 0, 1, 0, 0, 1, 1, 0, 1, 0, 1, 0, 1, 1, 0, 1,
           1, 0, 1, 0, 1, 0, 1, 0, 1, 0, 1, 0, 1, 1, 0, 1, 1, 0, 1, 0,
           1, 0, 1, 1, 0, 1, 1, 1, 0, 1, 1, 0, 1, 1, 0, 1, 1, 1, 0, 1,
           1, 0, 1, 1, 0, 1, 1, 0, 1, 1, 1, 0, 1, 1, 0, 1, 1, 0, 1, 1,
           1, 1, 0, 1, 1, 0, 1, 1, 0, 1, 1, 1, 0, 1, 1, 0, 1, 1, 0, 1,
           1, 0, 1, 1, 0, 1, 1, 1, 1, 0, 1, 1, 0, 1, 1, 1, 1, 0, 1, 1,
           1, 1, 0, 1, 1, 0, 1, 1, 1, 0, 1, 1, 1, 0, 1, 1, 0, 1]

# ===================== STYLES =====================
R_PAL = ["#000000", "#DF536B", "#61D04F", "#2297E6", "#28E2E5", "#CD0BBC"]
RED, GREEN, BLUE = "#FF0000", "#00FF00", "#0000FF"

fig = go.Figure()
annos = []
shapes = []
_ax = [0]


def new_axes(xpx, ypx, xa, ya):
    _ax[0] += 1
    i = _ax[0]
    s = "" if i == 1 else str(i)
    xd = dict(domain=[xpx[0] / W, xpx[1] / W], anchor="y" + s)
    xd.update(xa)
    yd = dict(domain=[1 - ypx[1] / H, 1 - ypx[0] / H], anchor="x" + s)
    yd.update(ya)
    fig.update_layout({"xaxis" + s: xd, "yaxis" + s: yd})
    return "x" + s, "y" + s


def rbox(rng, size=6.3, **kw):
    d = dict(range=rng, showline=True, linecolor="black", linewidth=1, mirror=True,
             ticks="outside", ticklen=3, tickwidth=1, tickcolor="black",
             showgrid=False, zeroline=False,
             tickfont=dict(family=SANS, size=size, color="black"))
    d.update(kw)
    return d


def gaxis(rng, size=6, **kw):
    d = dict(range=rng, showline=True, linecolor="black", linewidth=1.2, mirror=False,
             ticks="outside", ticklen=2, tickwidth=1, tickcolor="black",
             showgrid=False, zeroline=False, ticklabelstandoff=-3,
             tickfont=dict(family=SANS, size=size, color="black"))
    d.update(kw)
    return d


def text(xp, yp, s, size=8, color="black", family=SANS, angle=0, xanchor="center", yanchor="middle"):
    annos.append(dict(x=xp / W, y=1 - yp / H, xref="paper", yref="paper", text=s, showarrow=False,
                      font=dict(family=family, size=size, color=color), textangle=angle,
                      xanchor=xanchor, yanchor=yanchor))


def pline(x0, y0, x1, y1, color, width=1, dash="solid"):
    shapes.append(dict(type="line", xref="paper", yref="paper", x0=x0 / W, x1=x1 / W,
                       y0=1 - y0 / H, y1=1 - y1 / H, line=dict(color=color, width=width, dash=dash)))


def pdot(xp, yp, r, color):
    shapes.append(dict(type="circle", xref="paper", yref="paper", x0=(xp - r) / W, x1=(xp + r) / W,
                       y0=1 - (yp + r) / H, y1=1 - (yp - r) / H, fillcolor=color, line=dict(width=0)))


def step_at(times, vals, t):
    v = vals[0]
    for ti, vi in zip(times, vals):
        if ti <= t:
            v = vi
    return v


# panel letters
for lab, xp, yp in [("A", 7, 8), ("B", 246, 8), ("C", 464, 8), ("D", 7, 238), ("E", 9, 431), ("F", 9, 641)]:
    text(xp, yp, lab, size=15, family=SERIF)

# ===================== A =====================
xa, ya = new_axes((29, 210), (21, 183),
                  rbox([-5.47, -1.94], tickvals=LASSO_TOP_AT,
                       ticktext=["-5.0", "-4.5", "-4.0", "-3.5", "-3.0", "-2.5", "-2.0"], mirror="ticks"),
                  rbox([-2.82, 5.0], tickvals=[-2, 0, 2, 4], ticktext=["-2", "0", "2", "4"], tickangle=-90))
for path, ci in zip(LASSO_PATHS, LASSO_PATH_COLOR):
    fig.add_trace(go.Scatter(x=LASSO_LOG_LAMBDA, y=path, mode="lines", xaxis=xa, yaxis=ya,
                             line=dict(color=R_PAL[ci], width=1, shape="spline", smoothing=0.5),
                             hoverinfo="skip", showlegend=False))
for xv, lab in zip(LASSO_TOP_AT, LASSO_TOP_DF):
    annos.append(dict(x=xv, xref=xa, y=1 - 12 / H, yref="paper", text=lab, showarrow=False,
                      font=dict(family=SANS, size=6.3, color="black")))
text(120, 203, "Log Lambda", size=6)
text(6, 102, "Coefficients", size=5.5, angle=-90)

# ===================== B =====================
xb, yb = new_axes((262, 446), (21, 183),
                  rbox([-5.51, -1.94], tickvals=[-5.0, -4.5, -4.0, -3.5, -3.0, -2.5, -2.0],
                       ticktext=["-5.0", "-4.5", "-4.0", "-3.5", "-3.0", "-2.5", "-2.0"]),
                  rbox([9.69, 22.39], tickvals=[10, 12, 14, 16, 18, 20, 22], tickangle=-90))
fig.add_trace(go.Scatter(
    x=CV_LOG_LAMBDA, y=CV_MEAN, mode="markers", xaxis=xb, yaxis=yb,
    marker=dict(color="red", size=4),
    error_y=dict(type="data", symmetric=False,
                 array=[u - m for u, m in zip(CV_UPPER, CV_MEAN)],
                 arrayminus=[m - l for m, l in zip(CV_MEAN, CV_LOWER)],
                 color="#A9A9A9", thickness=1, width=2.5),
    hoverinfo="skip", showlegend=False))
for xv in (CV_LAMBDA_MIN, CV_LAMBDA_1SE):
    shapes.append(dict(type="line", xref=xb, yref=yb + " domain", x0=xv, x1=xv, y0=0, y1=1,
                       line=dict(color="#555555", width=1.6, dash="dash")))
for xv, lab in zip(CV_TOP_AT, CV_TOP_DF):
    annos.append(dict(x=xv, xref=xb, y=1 - 12 / H, yref="paper", text=lab, showarrow=False,
                      font=dict(family=SANS, size=6.3, color="black")))
text(352, 203, "Log (λ)", size=6)
text(241, 102, "Partial Likelihood Deviance", size=5.5, angle=-90)

# ===================== C =====================
xc, yc = new_axes((490, 675), (31, 150),
                  dict(type="category", range=[-1.3, 20.8], showline=False, ticks="", showgrid=False,
                       zeroline=False, tickangle=-45,
                       tickfont=dict(family=SERIF, size=6, color="black")),
                  dict(range=[-0.5, 1.0], showline=True, linecolor="black", linewidth=1, ticks="outside",
                       ticklen=3, tickcolor="black", showgrid=False, zeroline=True, zerolinecolor="black",
                       zerolinewidth=1, tickvals=[-0.5, 0, 0.5, 1.0], ticktext=["-0.5", "0.0", "0.5", "1.0"],
                       tickfont=dict(family=SERIF, size=6, color="black")))
fig.add_trace(go.Bar(x=GENES, y=COEFS, xaxis=xc, yaxis=yc, width=0.38,
                     marker=dict(color=[RED if v > 0 else GREEN for v in COEFS], line=dict(width=0)),
                     hoverinfo="skip", showlegend=False))
text(585, 196, "Selected lncRNAs", size=10, family=SERIF)
text(472, 90, "Coefficients", size=10.5, family=SERIF, angle=-90)

# ===================== D =====================
KM_X = [(37, 208), (271, 442), (503, 675)]
KM_XR = [[-0.51, 10.4], [-0.45, 10.45], [-0.51, 10.45]]
for k, (d, xpx, xr) in enumerate(zip(KM, KM_X, KM_XR)):
    xk, yk = new_axes(xpx, (255, 348),
                      gaxis(xr, tickvals=KM_TABLE_TIMES),
                      gaxis([-0.05, 1.05], tickvals=[0, 0.25, 0.5, 0.75, 1.0],
                            ticktext=["0.00", "0.25", "0.50", "0.75", "1.00"]))
    for grp, col, fcol in (("high", RED, "rgba(255,0,0,0.28)"), ("low", BLUE, "rgba(0,0,255,0.28)")):
        t = d[grp + "_t"]
        fig.add_trace(go.Scatter(x=t, y=d[grp + "_lo"], mode="lines", xaxis=xk, yaxis=yk,
                                 line=dict(width=0, shape="hv"), hoverinfo="skip", showlegend=False))
        fig.add_trace(go.Scatter(x=t, y=d[grp + "_up"], mode="lines", xaxis=xk, yaxis=yk, fill="tonexty",
                                 fillcolor=fcol, line=dict(width=0, shape="hv"), hoverinfo="skip",
                                 showlegend=False))
    for grp, col in (("high", RED), ("low", BLUE)):
        t = d[grp + "_t"]
        s = d[grp + "_s"]
        fig.add_trace(go.Scatter(x=t, y=s, mode="lines", xaxis=xk, yaxis=yk,
                                 line=dict(color=col, width=2.6, shape="hv"), hoverinfo="skip",
                                 showlegend=False))
        cens = d[grp + "_cens"]
        fig.add_trace(go.Scatter(x=cens, y=[step_at(t, s, c) for c in cens], mode="markers",
                                 xaxis=xk, yaxis=yk,
                                 marker=dict(symbol="cross-thin", size=5, line=dict(color=col, width=1)),
                                 hoverinfo="skip", showlegend=False))
    x0 = xpx[0]
    text([62, 294, 528][k], 328, d["pval"], size=7.5)
    text([10, 243, 477][k], 300, "Survival probability", size=6.2, angle=-90)
    text((xpx[0] + xpx[1]) / 2 + 4, 361, "Time(years)", size=6.3)
    # legend
    lx = [90, 322, 557][k]
    text(lx, 243, "Risk", size=4.3, xanchor="left")
    shapes.append(dict(type="rect", xref="paper", yref="paper", x0=(lx + 11) / W, x1=(lx + 18) / W,
                       y0=1 - 246 / H, y1=1 - 240 / H, fillcolor="rgba(255,0,0,0.3)", line=dict(width=0)))
    pline(lx + 11, 243, lx + 18, 243, RED, 2)
    text(lx + 20, 243, "High risk", size=4.3, xanchor="left")
    shapes.append(dict(type="rect", xref="paper", yref="paper", x0=(lx + 40) / W, x1=(lx + 47) / W,
                       y0=1 - 246 / H, y1=1 - 240 / H, fillcolor="rgba(0,0,255,0.3)", line=dict(width=0)))
    pline(lx + 40, 243, lx + 47, 243, BLUE, 2)
    text(lx + 50, 243, "Low risk", size=4.3, xanchor="left")

    # risk table
    xt, yt = new_axes(xpx, (376, 393),
                      gaxis(xr, tickvals=KM_TABLE_TIMES),
                      gaxis([-0.83, 2.0], tickvals=[0, 1], ticktext=["", ""]))
    fig.add_trace(go.Scatter(x=KM_TABLE_TIMES, y=[1] * len(d["n_high"]), mode="text",
                             text=[str(v) for v in d["n_high"]], xaxis=xt, yaxis=yt,
                             textfont=dict(family=SANS, size=5.8, color=RED), hoverinfo="skip",
                             showlegend=False))
    fig.add_trace(go.Scatter(x=KM_TABLE_TIMES, y=[0] * len(d["n_low"]), mode="text",
                             text=[str(v) for v in d["n_low"]], xaxis=xt, yaxis=yt,
                             textfont=dict(family=SANS, size=5.8, color=BLUE), hoverinfo="skip",
                             showlegend=False))
    text(x0 - 3, 382, "High risk", size=5.5, color=RED, xanchor="right")
    text(x0 - 3, 388, "Low risk", size=5.5, color=BLUE, xanchor="right")
    text([8, 243, 476][k], 385, "Risk", size=6.5, angle=-90)
    text((xpx[0] + xpx[1]) / 2 + 4, 405, "Time(years)", size=6.3)

# ===================== E =====================
ROC_BOX = [(35, 208), (262, 433), (488, 660)]
ROC_LEG = [110, 335, 562]
ROC_YT = [6, 231, 458]
for k, (d, bx) in enumerate(zip(ROC, ROC_BOX)):
    xe, ye = new_axes(bx, (447, 594),
                      rbox([-0.04, 1.04], size=7.3, tickvals=[0, 0.2, 0.4, 0.6, 0.8, 1.0],
                           ticktext=["0.0", "0.2", "0.4", "0.6", "0.8", "1.0"]),
                      rbox([-0.04, 1.04], size=7.3, tickvals=[0, 0.2, 0.4, 0.6, 0.8, 1.0],
                           ticktext=["0.0", "0.2", "0.4", "0.6", "0.8", "1.0"], tickangle=-90))
    shapes.append(dict(type="line", xref=xe, yref=ye, x0=-0.04, y0=-0.04, x1=1.04, y1=1.04,
                       line=dict(color="black", width=1, dash="dash")))
    for key, col in (("g", GREEN), ("b", BLUE), ("r", RED)):
        fig.add_trace(go.Scatter(x=d[key + "_x"], y=d[key + "_y"], mode="lines", xaxis=xe, yaxis=ye,
                                 line=dict(color=col, width=2), hoverinfo="skip", showlegend=False))
    lx = ROC_LEG[k]
    for j, (col, yr) in enumerate(zip((GREEN, BLUE, RED), ROC_YEARS)):
        yp = 567 + 9 * j
        pline(lx, yp, lx + 15, yp, col, 2)
        text(lx + 20, yp, "AUC at %s years: %s" % (yr, d["auc"][j]), size=7.6, xanchor="left")
    text((bx[0] + bx[1]) / 2, 626, "1\u2212Specificity", size=7.4)
    text(ROC_YT[k], 521, "Sensitivity", size=7.4, angle=-90)

# ===================== F =====================
F_SETS = [
    dict(risk=F1_RISK, time=F1_TIME, dead=F1_DEAD, nlow=F1_N_LOW, cut=F1_CUTOFF,
         box=(30, 212), xr=[-5.8, 176.8], xt=[0, 50, 100, 150], ytitle=6),
    dict(risk=F2_RISK, time=F2_TIME, dead=F2_DEAD, nlow=F2_N_LOW, cut=F2_CUTOFF,
         box=(256, 440), xr=[-5.7, 174.7], xt=[0, 50, 100, 150], ytitle=235),
    dict(risk=F3_RISK, time=F3_TIME, dead=F3_DEAD, nlow=F3_N_LOW, cut=F3_CUTOFF,
         box=(486, 665), xr=[-12.5, 351.5], xt=[0, 50, 100, 150, 200, 250, 300, 350], ytitle=463),
]
for fs in F_SETS:
    bx = fs["box"]
    # risk score
    x1, y1 = new_axes(bx, (660, 730),
                      rbox(fs["xr"], size=5.2, tickvals=fs["xt"]),
                      rbox([0.245, 10.4], size=5.2, tickvals=[2, 4, 6, 8, 10], tickangle=-90))
    n = len(fs["risk"])
    idx = list(range(1, n + 1))
    fig.add_trace(go.Scatter(x=idx, y=fs["risk"], mode="markers", xaxis=x1, yaxis=y1,
                             marker=dict(size=3.6, color=[GREEN if i <= fs["nlow"] else RED for i in idx]),
                             hoverinfo="skip", showlegend=False))
    shapes.append(dict(type="line", xref=x1 + " domain", yref=y1, x0=0, x1=1, y0=fs["cut"], y1=fs["cut"],
                       line=dict(color="black", width=1.2, dash="dash")))
    shapes.append(dict(type="line", xref=x1, yref=y1 + " domain", x0=fs["nlow"], x1=fs["nlow"], y0=0, y1=1,
                       line=dict(color="black", width=1.2, dash="dash")))
    pdot(bx[0] + 4, 668, 2.2, RED)
    text(bx[0] + 10, 668, "High risk", size=6, xanchor="left")
    pdot(bx[0] + 4, 677, 2.2, GREEN)
    text(bx[0] + 10, 677, "Low Risk", size=6, xanchor="left")
    text((bx[0] + bx[1]) / 2, 752, "Patients (increasing risk socre)", size=5.3)
    text(fs["ytitle"], 695, "Risk score", size=5.3, angle=-90)

    # survival time
    x2, y2 = new_axes(bx, (761, 830),
                      rbox(fs["xr"], size=5.2, tickvals=fs["xt"]),
                      rbox([-0.6, 10.3], size=5.2, tickvals=[0, 2, 4, 6, 8, 10], tickangle=-90))
    nt = len(fs["time"])
    fig.add_trace(go.Scatter(x=list(range(1, nt + 1)), y=fs["time"], mode="markers", xaxis=x2, yaxis=y2,
                             marker=dict(size=4.8, color=[RED if s else GREEN for s in fs["dead"]]),
                             hoverinfo="skip", showlegend=False))
    shapes.append(dict(type="line", xref=x2, yref=y2 + " domain", x0=fs["nlow"], x1=fs["nlow"], y0=0, y1=1,
                       line=dict(color="black", width=1.2, dash="dash")))
    pdot(bx[0] + 4, 767, 2.4, RED)
    text(bx[0] + 10, 767, "Dead", size=6, xanchor="left")
    pdot(bx[0] + 4, 775, 2.4, GREEN)
    text(bx[0] + 10, 775, "Alive", size=6, xanchor="left")
    text((bx[0] + bx[1]) / 2, 846, "Patients (increasing risk socre)", size=5.3)
    text(fs["ytitle"], 795, "Survival time (years)", size=5.3, angle=-90)

fig.update_layout(width=W, height=H, margin=dict(l=0, r=0, t=0, b=0),
                  paper_bgcolor="white", plot_bgcolor="white", showlegend=False,
                  annotations=annos, shapes=shapes, font=dict(family=SANS))
fig.write_html("out.html")
